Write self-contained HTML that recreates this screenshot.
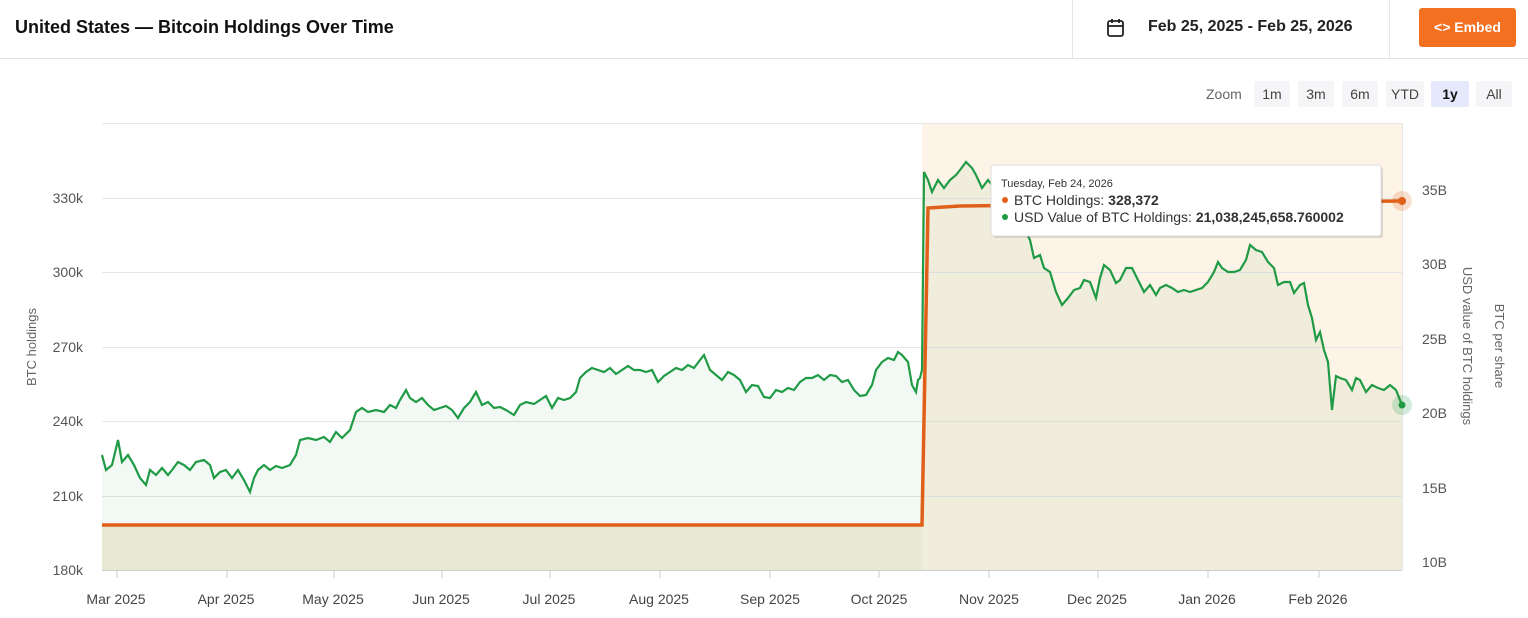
<!DOCTYPE html><html><head><style>
body{margin:0;width:1528px;height:618px;background:#fff;font-family:"Liberation Sans",sans-serif;overflow:hidden;position:relative}
.hdr{position:absolute;left:0;top:0;width:1528px;height:58px;border-bottom:1px solid #e3e3e3}
.t{position:absolute;left:15px;top:17px;font-size:18px;font-weight:bold;color:#111}
.sep{position:absolute;top:0;width:1px;height:58px;background:#e8e8e8}
.dt{position:absolute;left:1148px;top:18px;font-size:16px;font-weight:bold;color:#222}
.emb{position:absolute;left:1419px;top:8px;width:97px;height:39px;background:#f37021;border-radius:3px;color:#fff;font-size:14px;font-weight:bold;line-height:39px;text-align:center}
.zb{position:absolute;top:81px;height:26px;line-height:26px;font-size:14px;color:#444;text-align:center;background:#f5f5f7;border-radius:2px}
</style></head><body>
<div class="hdr"><div class="t">United States — Bitcoin Holdings Over Time</div>
<div class="sep" style="left:1072px"></div><div class="sep" style="left:1389px"></div>
<svg style="position:absolute;left:1106px;top:18px" width="20" height="20"><rect x="2" y="3" width="15" height="15" rx="2" fill="none" stroke="#222" stroke-width="1.8"/><line x1="2" y1="8" x2="17" y2="8" stroke="#222" stroke-width="1.8"/><line x1="6" y1="1" x2="6" y2="5" stroke="#222" stroke-width="1.8"/><line x1="13" y1="1" x2="13" y2="5" stroke="#222" stroke-width="1.8"/></svg>
<div class="dt">Feb 25, 2025 - Feb 25, 2026</div>
<div class="emb">&lt;&gt; Embed</div></div>
<div style="position:absolute;left:1206px;top:86px;font-size:14px;color:#666">Zoom</div>
<div class="zb" style="left:1254px;width:36px">1m</div>
<div class="zb" style="left:1298px;width:36px">3m</div>
<div class="zb" style="left:1342px;width:36px">6m</div>
<div class="zb" style="left:1386px;width:38px">YTD</div>
<div class="zb" style="left:1431px;width:38px;background:#e6e9fb;font-weight:bold;color:#111">1y</div>
<div class="zb" style="left:1476px;width:36px">All</div>
<svg style="position:absolute;left:0;top:0" width="1528" height="618">
<rect x="922" y="123" width="480" height="447" fill="#fdf3e6"/>
<rect x="102" y="525" width="820" height="45" fill="#f4eedb"/>
<g stroke="#e6e6e6" stroke-width="1"><line x1="102" y1="123.5" x2="1402" y2="123.5"/><line x1="102" y1="198.5" x2="1402" y2="198.5"/><line x1="102" y1="272.5" x2="1402" y2="272.5"/><line x1="102" y1="347.5" x2="1402" y2="347.5"/><line x1="102" y1="421.5" x2="1402" y2="421.5"/><line x1="102" y1="496.5" x2="1402" y2="496.5"/><line x1="1402.5" y1="123" x2="1402.5" y2="570"/></g>
<path id="g" d="M102,455 L106,470 112,465 118,440 122,462 128,455 134,465 140,478 146,485 150,470 156,475 162,468 168,475 172,470 178,462 184,465 190,470 196,462 204,460 210,465 214,478 220,472 226,470 232,478 238,470 244,480 250,492 254,478 258,470 264,465 270,470 276,466 282,468 290,465 296,455 300,440 308,438 316,440 324,437 330,442 336,432 342,438 350,430 356,412 362,408 368,412 376,410 384,412 390,405 396,408 400,400 406,390 410,398 416,402 422,398 428,405 434,410 440,408 446,406 452,410 458,418 464,408 470,402 476,392 482,405 488,402 494,408 500,407 506,410 514,415 520,405 526,402 534,404 540,400 546,396 552,408 558,398 564,400 570,398 576,392 580,378 586,372 592,368 598,370 604,372 610,368 616,374 622,370 628,366 634,370 640,370 646,372 652,370 658,382 664,376 670,372 676,368 682,370 688,365 694,368 700,360 704,355 710,370 716,375 722,380 728,372 734,375 740,380 746,392 752,385 758,386 764,397 770,398 776,390 782,392 788,388 794,390 800,382 806,378 812,378 818,375 824,380 830,375 836,376 842,382 848,380 854,390 860,396 866,395 872,385 876,370 882,362 888,358 894,360 898,352 902,355 908,362 912,385 916,392 918,380 920,378 922,370 924,172 928,180 932,192 938,180 944,188 950,180 956,175 960,170 966,162 972,168 976,175 982,188 988,180 992,185 1010,200 1030,240 1034,258 1040,255 1044,268 1050,272 1056,292 1062,305 1068,298 1074,290 1080,288 1084,280 1090,282 1096,298 1100,278 1104,265 1110,270 1116,283 1120,280 1126,268 1132,268 1138,280 1144,292 1150,285 1156,295 1160,288 1166,285 1172,288 1178,292 1184,290 1190,292 1196,290 1202,288 1208,282 1214,272 1218,262 1222,268 1228,272 1234,272 1240,270 1246,260 1250,245 1256,250 1262,252 1268,262 1274,268 1278,285 1284,282 1290,282 1294,293 1300,285 1304,283 1308,305 1312,318 1316,340 1320,332 1324,350 1328,362 1332,410 1336,376 1340,378 1346,380 1352,390 1356,378 1360,380 1366,392 1372,385 1378,388 1384,390 1390,385 1396,390 1402,405" fill="none"/>
<path d="M102,455 L106,470 112,465 118,440 122,462 128,455 134,465 140,478 146,485 150,470 156,475 162,468 168,475 172,470 178,462 184,465 190,470 196,462 204,460 210,465 214,478 220,472 226,470 232,478 238,470 244,480 250,492 254,478 258,470 264,465 270,470 276,466 282,468 290,465 296,455 300,440 308,438 316,440 324,437 330,442 336,432 342,438 350,430 356,412 362,408 368,412 376,410 384,412 390,405 396,408 400,400 406,390 410,398 416,402 422,398 428,405 434,410 440,408 446,406 452,410 458,418 464,408 470,402 476,392 482,405 488,402 494,408 500,407 506,410 514,415 520,405 526,402 534,404 540,400 546,396 552,408 558,398 564,400 570,398 576,392 580,378 586,372 592,368 598,370 604,372 610,368 616,374 622,370 628,366 634,370 640,370 646,372 652,370 658,382 664,376 670,372 676,368 682,370 688,365 694,368 700,360 704,355 710,370 716,375 722,380 728,372 734,375 740,380 746,392 752,385 758,386 764,397 770,398 776,390 782,392 788,388 794,390 800,382 806,378 812,378 818,375 824,380 830,375 836,376 842,382 848,380 854,390 860,396 866,395 872,385 876,370 882,362 888,358 894,360 898,352 902,355 908,362 912,385 916,392 918,380 920,378 922,370 924,172 928,180 932,192 938,180 944,188 950,180 956,175 960,170 966,162 972,168 976,175 982,188 988,180 992,185 1010,200 1030,240 1034,258 1040,255 1044,268 1050,272 1056,292 1062,305 1068,298 1074,290 1080,288 1084,280 1090,282 1096,298 1100,278 1104,265 1110,270 1116,283 1120,280 1126,268 1132,268 1138,280 1144,292 1150,285 1156,295 1160,288 1166,285 1172,288 1178,292 1184,290 1190,292 1196,290 1202,288 1208,282 1214,272 1218,262 1222,268 1228,272 1234,272 1240,270 1246,260 1250,245 1256,250 1262,252 1268,262 1274,268 1278,285 1284,282 1290,282 1294,293 1300,285 1304,283 1308,305 1312,318 1316,340 1320,332 1324,350 1328,362 1332,410 1336,376 1340,378 1346,380 1352,390 1356,378 1360,380 1366,392 1372,385 1378,388 1384,390 1390,385 1396,390 1402,405 L1402,570 102,570Z" fill="#1e9e4a" fill-opacity="0.06"/>
<path d="M102,525 L922,525 L928,208 960,206 1402,201" fill="none" stroke="#e0601a" stroke-width="3.5"/>
<use href="#g" stroke="#1f9a45" stroke-width="2.2"/>
<line x1="102" y1="570.5" x2="1402" y2="570.5" stroke="#ccc"/>
<g stroke="#ccc"><line x1="117" y1="570" x2="117" y2="578"/><line x1="227" y1="570" x2="227" y2="578"/><line x1="334" y1="570" x2="334" y2="578"/><line x1="442" y1="570" x2="442" y2="578"/><line x1="550" y1="570" x2="550" y2="578"/><line x1="660" y1="570" x2="660" y2="578"/><line x1="770" y1="570" x2="770" y2="578"/><line x1="879" y1="570" x2="879" y2="578"/><line x1="989" y1="570" x2="989" y2="578"/><line x1="1098" y1="570" x2="1098" y2="578"/><line x1="1208" y1="570" x2="1208" y2="578"/><line x1="1319" y1="570" x2="1319" y2="578"/></g>
<g font-size="14" fill="#444" text-anchor="middle"><text x="116" y="604">Mar 2025</text><text x="226" y="604">Apr 2025</text><text x="333" y="604">May 2025</text><text x="441" y="604">Jun 2025</text><text x="549" y="604">Jul 2025</text><text x="659" y="604">Aug 2025</text><text x="770" y="604">Sep 2025</text><text x="879" y="604">Oct 2025</text><text x="989" y="604">Nov 2025</text><text x="1097" y="604">Dec 2025</text><text x="1207" y="604">Jan 2026</text><text x="1318" y="604">Feb 2026</text></g>
<g font-size="14" fill="#555" text-anchor="end"><text x="83" y="203">330k</text><text x="83" y="277">300k</text><text x="83" y="352">270k</text><text x="83" y="426">240k</text><text x="83" y="501">210k</text><text x="83" y="575">180k</text></g>
<g font-size="14" fill="#555"><text x="1422" y="195">35B</text><text x="1422" y="269">30B</text><text x="1422" y="344">25B</text><text x="1422" y="418">20B</text><text x="1422" y="493">15B</text><text x="1422" y="567">10B</text></g>
<text transform="translate(36,347) rotate(-90)" font-size="13" fill="#666" text-anchor="middle">BTC holdings</text>
<text transform="translate(1463,346) rotate(90)" font-size="13" fill="#666" text-anchor="middle">USD value of BTC holdings</text>
<text transform="translate(1495,346) rotate(90)" font-size="13" fill="#666" text-anchor="middle">BTC per share</text>
<circle cx="1402" cy="201" r="10" fill="#e0601a" fill-opacity="0.2"/><circle cx="1402" cy="201" r="4" fill="#e0601a"/>
<circle cx="1402" cy="405" r="10" fill="#1f9a45" fill-opacity="0.2"/><circle cx="1402" cy="405" r="3.5" fill="#1f9a45"/>
<rect x="993" y="167" width="390" height="71" rx="3" fill="#000" fill-opacity="0.12"/>
<rect x="991" y="165" width="390" height="71" rx="3" fill="#fff" stroke="#ddd"/>
<text x="1001" y="187" font-size="11" fill="#333">Tuesday, Feb 24, 2026</text>
<circle cx="1005" cy="200" r="3" fill="#e0601a"/><text x="1014" y="205" font-size="14" fill="#333">BTC Holdings: <tspan font-weight="bold">328,372</tspan></text>
<circle cx="1005" cy="217" r="3" fill="#1f9a45"/><text x="1014" y="222" font-size="14" fill="#333">USD Value of BTC Holdings: <tspan font-weight="bold">21,038,245,658.760002</tspan></text>
</svg>
</body></html>
